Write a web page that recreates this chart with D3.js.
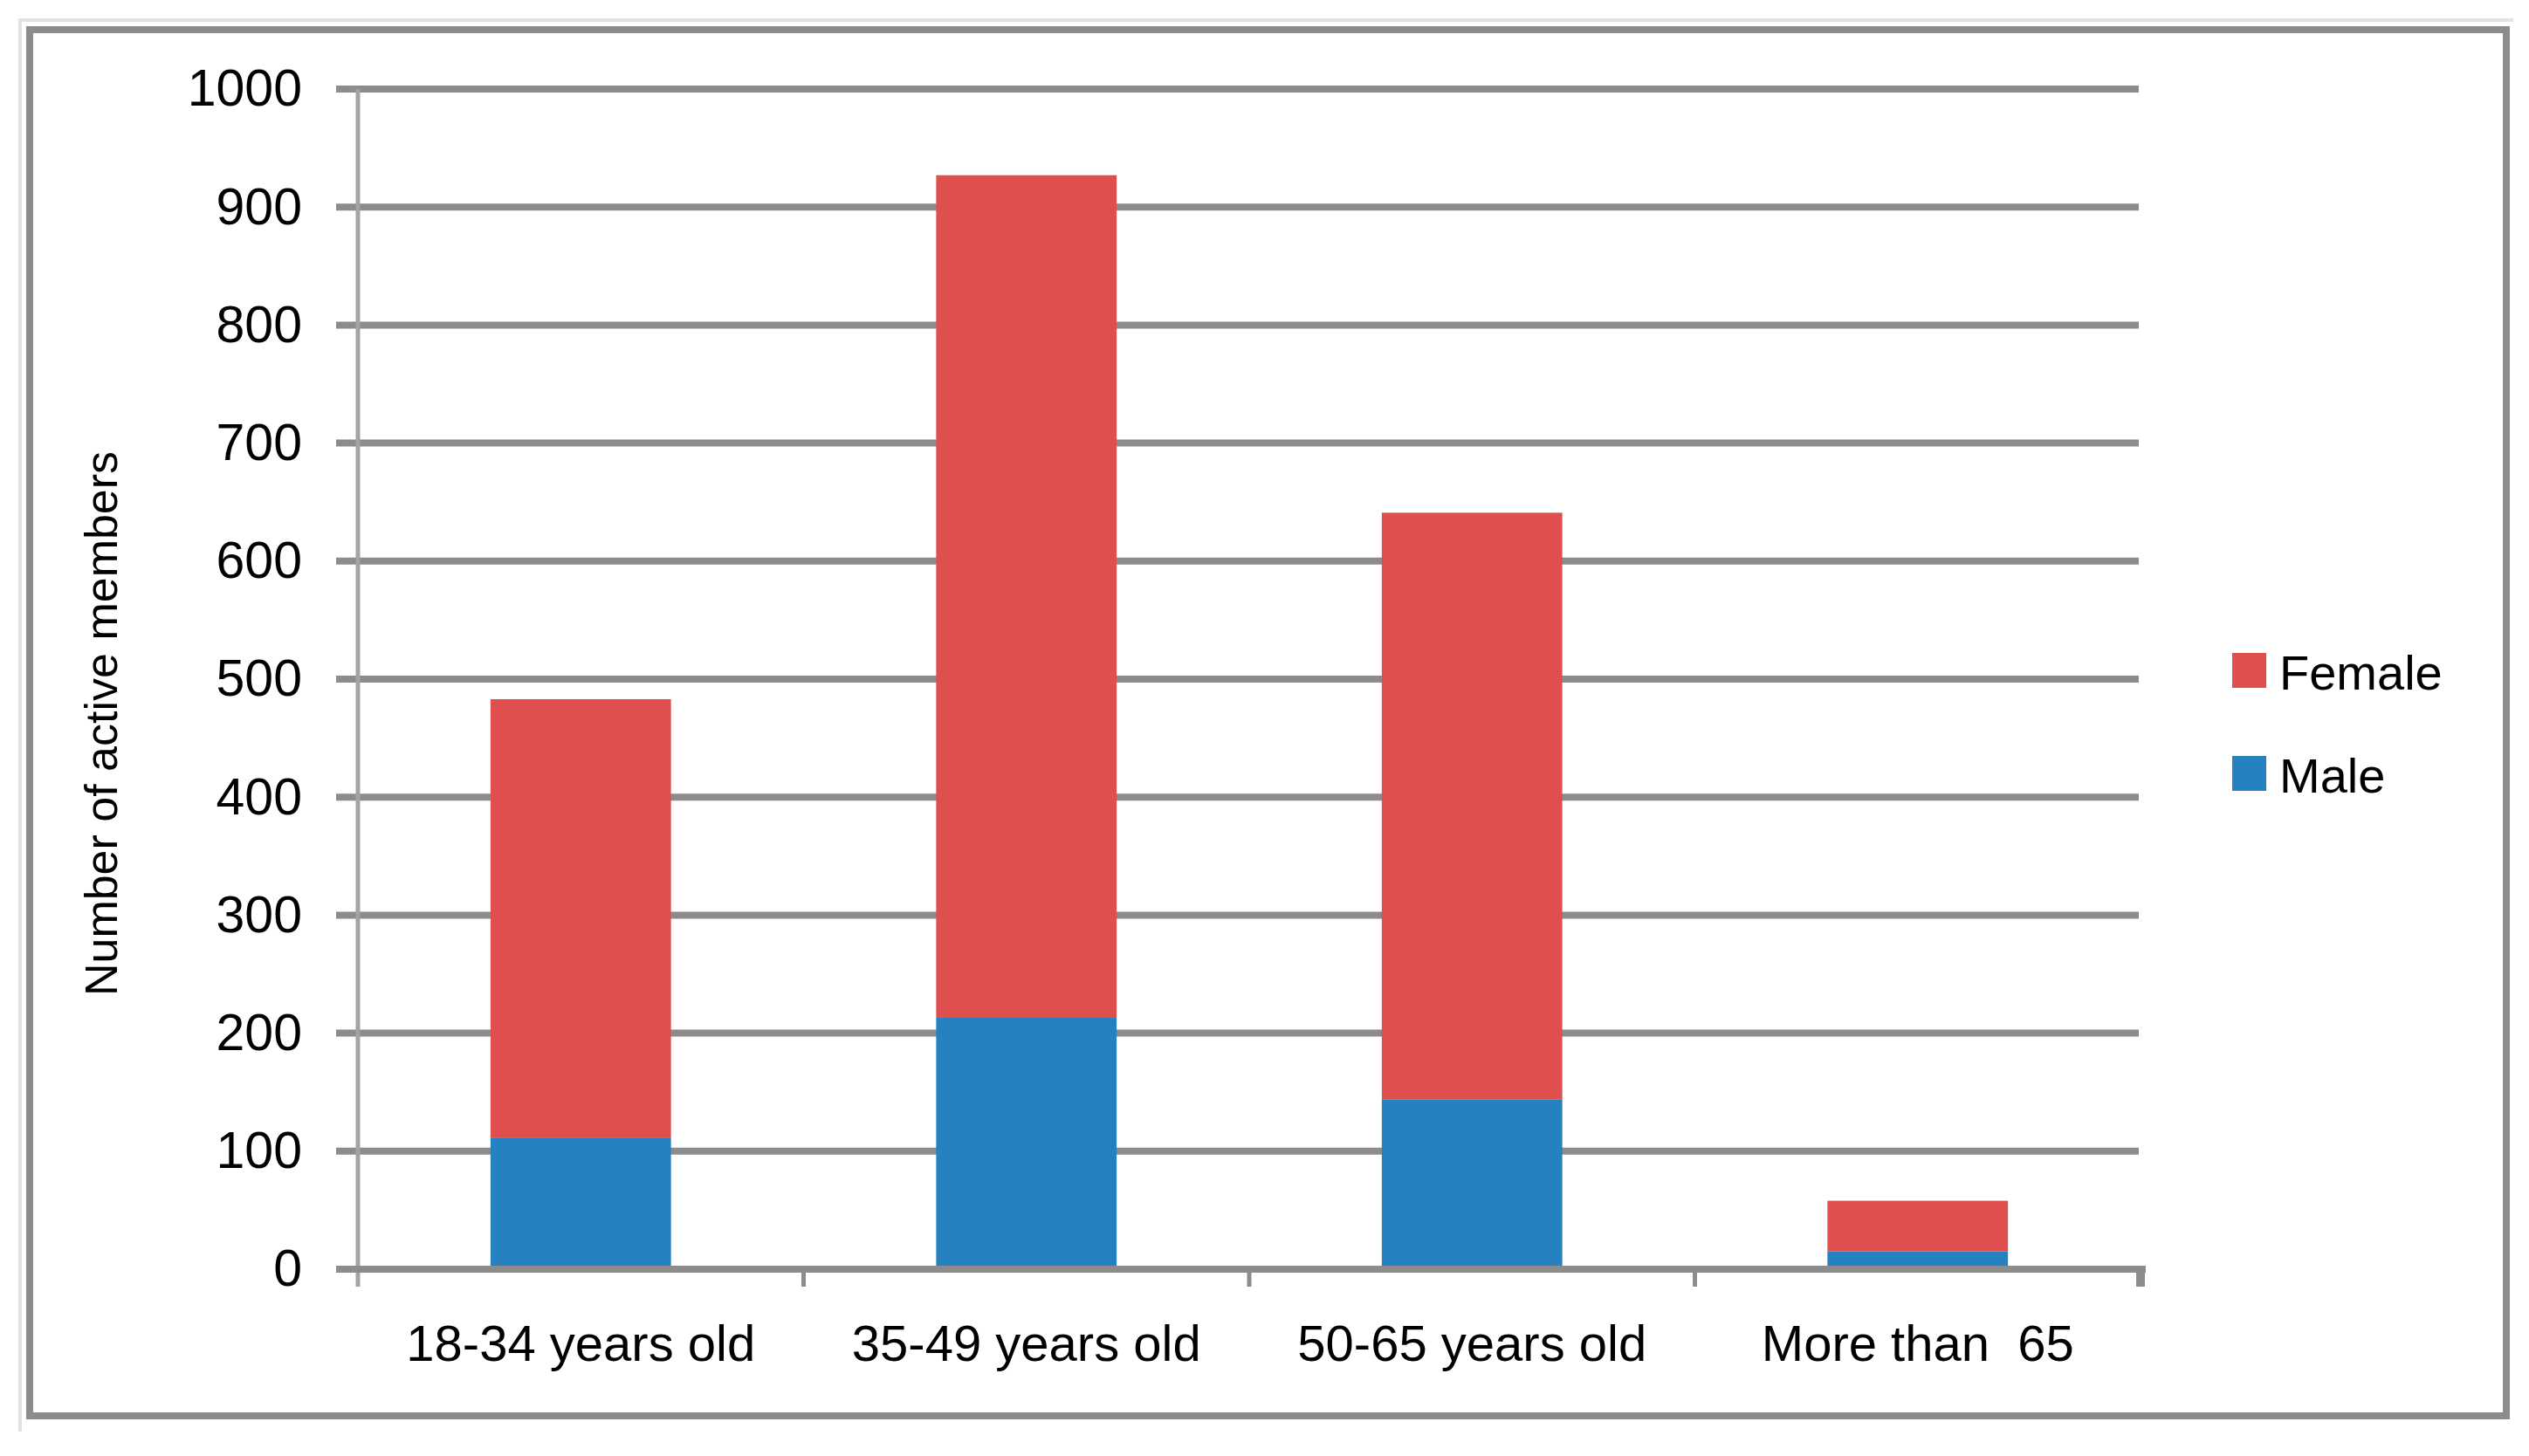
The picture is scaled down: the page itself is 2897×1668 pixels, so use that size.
<!DOCTYPE html>
<html>
<head>
<meta charset="utf-8">
<script src="https://cdn.jsdelivr.net/npm/d3@7"></script>
<style>
  html, body { margin: 0; padding: 0; background: #ffffff; }
  svg { display: block; }
  text { font-family: "Liberation Sans", Arial, sans-serif; fill: #000; }
</style>
</head>
<body>
<script>
// ---- data ----
const categories = ["18-34 years old", "35-49 years old", "50-65 years old", "More than  65"];
const maleValues = [111, 213, 144, 15];
const femaleValues = [372, 714, 497, 43];
const seriesNames = ["Male", "Female"];
const legendNames = ["Female", "Male"];
const yTicks = [0, 100, 200, 300, 400, 500, 600, 700, 800, 900, 1000];
const yTitle = "Number of active members";

// ---- layout ----
const W = 2897, H = 1668;
const colors = { Male: "#2581c0", Female: "#de4f4e" };
const gridColor = "#8c8c8c";

const svg = d3.select("body").append("svg")
  .attr("width", W).attr("height", H);

svg.append("rect").attr("x", 0).attr("y", 0).attr("width", W).attr("height", H).attr("fill", "#fff");

// outer frame (with faint outer edge)
svg.append("path")
  .attr("d", `M23,1640 V23 H2879`)
  .attr("fill", "none").attr("stroke", "#e2e2e2").attr("stroke-width", 4);
svg.append("rect")
  .attr("x", 34).attr("y", 34).attr("width", 2837).attr("height", 1588)
  .attr("fill", "none").attr("stroke", "#8c8c8c").attr("stroke-width", 8);

// scales
const x = d3.scaleBand().domain(categories).range([410, 2452])
  .paddingInner(0.595).paddingOuter(0.2975);
const y = d3.scaleLinear().domain([0, 1000]).range([1454, 102]);

// stacked data
const table = categories.map((c, i) => ({ cat: c, Male: maleValues[i], Female: femaleValues[i] }));
const stack = d3.stack().keys(seriesNames)(table);

// gridlines (with tick stubs to the left of the axis)
svg.append("g").selectAll("line").data(yTicks.filter(t => t > 0)).join("line")
  .attr("x1", 385).attr("x2", 2450)
  .attr("y1", d => y(d)).attr("y2", d => y(d))
  .attr("stroke", gridColor).attr("stroke-width", 8);

// y axis line
svg.append("line")
  .attr("x1", 410).attr("x2", 410).attr("y1", y(1000)).attr("y2", 1474)
  .attr("stroke", "#a3a3a3").attr("stroke-width", 5);

// bars
svg.append("g").selectAll("g").data(stack).join("g")
  .attr("fill", d => colors[d.key])
  .selectAll("rect").data(d => d).join("rect")
  .attr("x", d => x(d.data.cat))
  .attr("width", x.bandwidth())
  .attr("y", d => y(d[1]))
  .attr("height", d => y(d[0]) - y(d[1]));

// baseline (0) with tick stub
svg.append("line")
  .attr("x1", 385).attr("x2", 2458)
  .attr("y1", y(0)).attr("y2", y(0))
  .attr("stroke", gridColor).attr("stroke-width", 8);

// category boundary ticks
const x0 = x.range()[0];
const boundaries = d3.range(1, categories.length + 1).map(i => x0 + i * x.step());
svg.append("g").selectAll("line").data(boundaries).join("line")
  .attr("x1", d => d).attr("x2", d => d)
  .attr("y1", y(0)).attr("y2", 1474)
  .attr("stroke", gridColor).attr("stroke-width", d => d > 2400 ? 10 : 5);

// y axis labels via d3 axis
const yAxis = svg.append("g")
  .attr("transform", "translate(410,0)")
  .call(d3.axisLeft(y).tickValues(yTicks).tickSize(0).tickPadding(64).tickFormat(d3.format("d")));
yAxis.select(".domain").remove();
yAxis.selectAll("text")
  .style("font-family", "'Liberation Sans', Arial, sans-serif")
  .style("font-size", "59px").attr("fill", "#000");

// x axis labels via d3 axis
const xAxis = svg.append("g")
  .attr("transform", `translate(0,${y(0)})`)
  .call(d3.axisBottom(x).tickSize(0).tickPadding(64));
xAxis.select(".domain").remove();
xAxis.selectAll("text")
  .style("font-family", "'Liberation Sans', Arial, sans-serif")
  .style("font-size", "58px").attr("fill", "#000")
  .style("white-space", "pre")
  .attr("xml:space", "preserve");

// y axis title
svg.append("text")
  .attr("transform", "translate(134,829) rotate(-90)")
  .attr("text-anchor", "middle")
  .style("font-size", "52px")
  .text(yTitle);

// legend
const legend = svg.append("g").selectAll("g").data(legendNames).join("g")
  .attr("transform", (d, i) => `translate(2557,${748 + i * 118})`);
legend.append("rect")
  .attr("width", 39).attr("height", 40)
  .attr("fill", d => colors[d]);
legend.append("text")
  .attr("x", 54).attr("y", 42)
  .style("font-size", "56px")
  .text(d => d);
</script>
</body>
</html>
